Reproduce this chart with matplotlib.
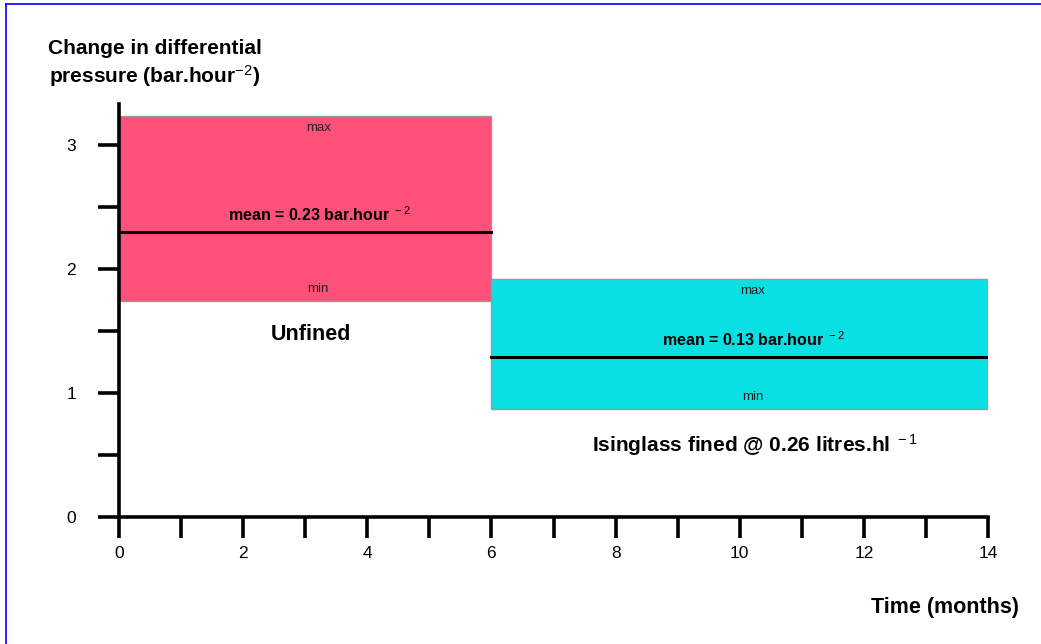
import matplotlib
matplotlib.use("Agg")
import matplotlib.pyplot as plt
from matplotlib.patches import Rectangle
from matplotlib.lines import Line2D

plt.rcParams['font.family'] = ['Liberation Sans', 'DejaVu Sans']
plt.rcParams['mathtext.fontset'] = 'custom'
plt.rcParams['mathtext.rm'] = 'Liberation Sans'
plt.rcParams['mathtext.default'] = 'rm'
plt.rcParams['axes.unicode_minus'] = False

# data
groups = ["Unfined", "Isinglass fined @ 0.26 litres.hl$^{\\ -1}$"]
starts = [0, 6]
ends = [6, 14]
mins = [1.74, 0.87]
maxs = [3.23, 1.92]
means = [2.30, 1.29]
mean_labels = ["mean = 0.23 bar.hour$^{\\ -2}$", "mean = 0.13 bar.hour$^{\\ -2}$"]
colors = ["#FF507A", "#08E0E4"]
x_major = [0, 2, 4, 6, 8, 10, 12, 14]
x_minor = list(range(0, 15))
y_major = [0, 1, 2, 3]
y_minor = [0.5, 1.5, 2.5]

fig = plt.figure(figsize=(10.41, 6.44), dpi=100)
ax = fig.add_axes([119/1041, 1 - 517/644, (988-119)/1041, (517-104)/644])
ax.set_xlim(0, 14)
ax.set_ylim(0, 3.33)

for i in range(len(groups)):
    ax.add_patch(Rectangle((starts[i], mins[i]), ends[i]-starts[i], maxs[i]-mins[i],
                           facecolor=colors[i], edgecolor="#999999", linewidth=1, zorder=1))
    ax.plot([starts[i], ends[i]], [means[i], means[i]], color="black", lw=2.2, zorder=2)
    cx = (starts[i] + ends[i]) / 2
    ax.annotate("max", xy=(cx, maxs[i]), xytext=(13, -12), textcoords="offset pixels",
                ha="center", va="center", fontsize=9.5, color="#222222")
    ax.annotate("min", xy=(cx, mins[i]), xytext=(13, 12), textcoords="offset pixels",
                ha="center", va="center", fontsize=9.5, color="#222222")
    ax.annotate(mean_labels[i], xy=(cx, means[i]), xytext=(14, 17), textcoords="offset pixels",
                ha="center", va="center", fontsize=11.5, fontweight="bold")

ax.text(3.1, 1.47, groups[0], ha="center", va="center", fontsize=15.5, fontweight="bold")
ax.text(10.25, 0.58, groups[1], ha="center", va="center", fontsize=15, fontweight="bold")

for s in ["top", "right"]:
    ax.spines[s].set_visible(False)
for s in ["left", "bottom"]:
    ax.spines[s].set_linewidth(2.6)

ax.set_xticks(x_major)
ax.set_xticks(x_minor, minor=True)
ax.set_yticks(y_major)
ax.set_yticks(y_minor, minor=True)
ax.tick_params(axis="x", which="both", direction="out", length=15, width=2.6, labelsize=12.5, pad=6)
ax.tick_params(axis="y", which="both", direction="out", length=15, width=2.6, labelsize=12.5, pad=16)
ax.patch.set_alpha(0)

fig.text(155/1041, 1 - 64/644, "Change in differential\npressure (bar.hour$^{-2}$)",
         ha="center", va="center", fontsize=15, fontweight="bold", linespacing=1.25)
fig.text(945/1041, 1 - 607/644, "Time (months)", ha="center", va="center",
         fontsize=15.5, fontweight="bold")

# blue frame (top and left edges)
fig.add_artist(Line2D([6/1041, 6/1041], [0, 1 - 4/644], color="blue", lw=1.2, transform=fig.transFigure))
fig.add_artist(Line2D([6/1041, 1], [1 - 4/644, 1 - 4/644], color="blue", lw=1.2, transform=fig.transFigure))

fig.savefig("out.png", dpi=100)
